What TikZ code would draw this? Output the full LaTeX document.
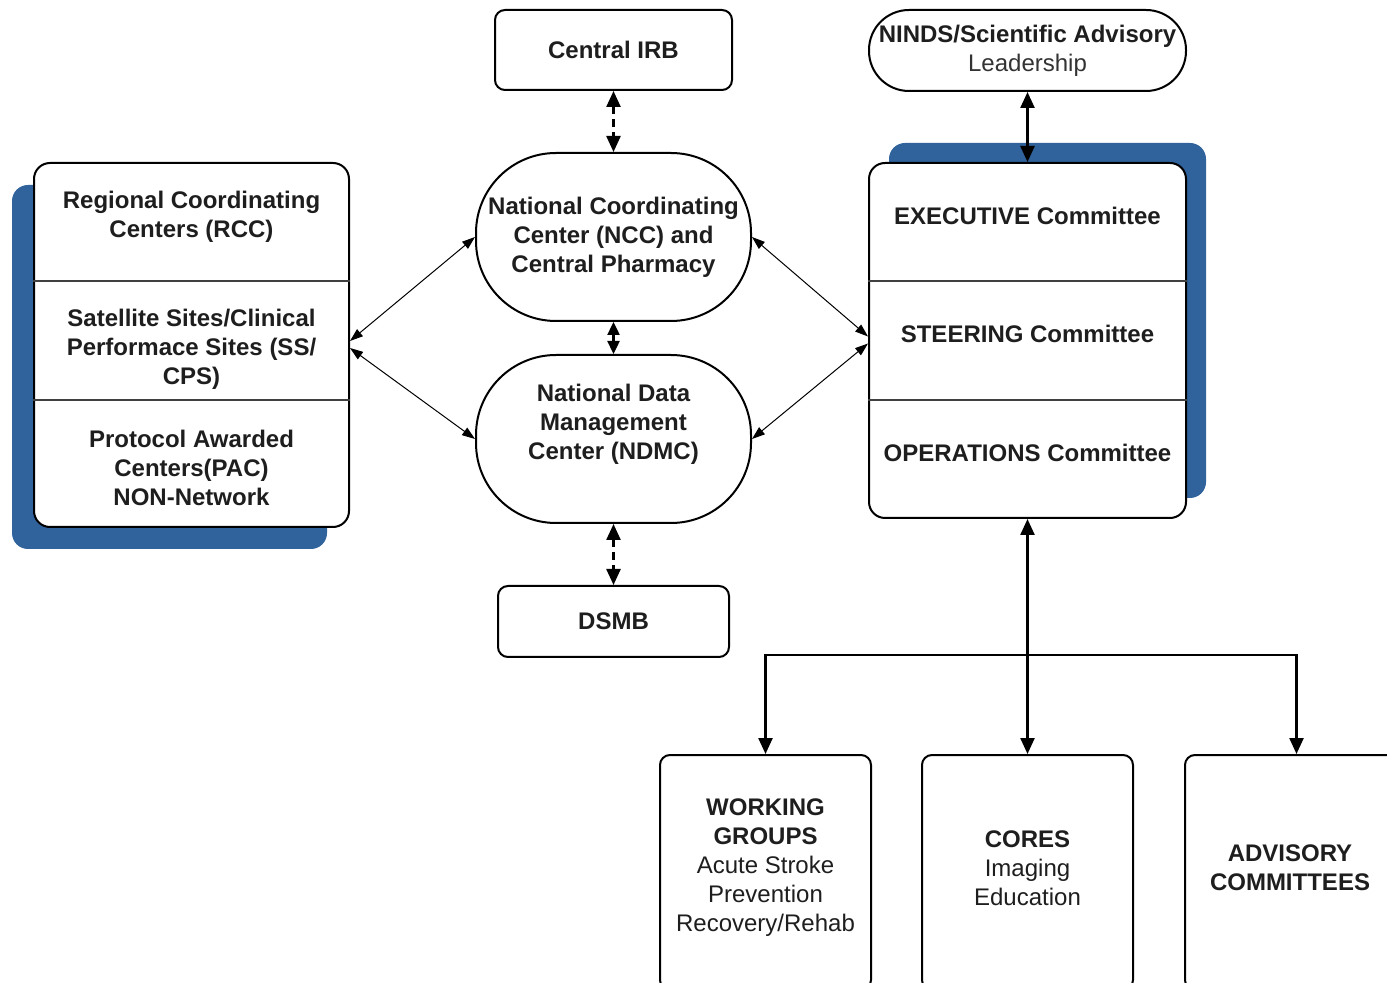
\documentclass[tikz,border=0pt]{standalone}
\usepackage{fontspec}
\setmainfont{Liberation Sans}
\usetikzlibrary{arrows.meta}
\definecolor{shadeblue}{RGB}{48,98,155}
\definecolor{inkgray}{RGB}{30,30,30}
\newcommand{\boxfont}{\fontsize{12}{14.5}\selectfont\bfseries}

\begin{document}
\begin{tikzpicture}[x=0.5pt, y=-0.5pt, >={Triangle[width=7pt,length=8pt]},
    every node/.style={text=inkgray},
    box/.style={draw, line width=1pt, fill=white, rounded corners=5pt, inner sep=0pt},
    pill/.style={draw, line width=1pt, fill=white, inner sep=0pt},
    shade/.style={fill=shadeblue, rounded corners=8pt, inner sep=0pt},
    txt/.style={align=center, font=\boxfont, inner sep=0pt},
    divider/.style={line width=0.8pt, black!75},
    bigarrow/.style={<->, line width=1.2pt},
    dasharrow/.style={<->, line width=1.2pt, dash pattern=on 4pt off 2.5pt},
    thinarrow/.style={<->, line width=0.5pt, >={Triangle[width=4.5pt,length=6.5pt]}},
    downarrow/.style={->, line width=1.2pt}]

    \useasboundingbox (0,0) rectangle (1387,983);
    \clip (0,0) rectangle (1387,983);

    % shadows behind the two stacks
    \node (leftshade) [shade, minimum width=157.5pt, minimum height=182pt] at (169.5,367) {};
    \node (rightshade) [shade, minimum width=158.5pt, minimum height=177.5pt] at (1047.5,320.5) {};

    % left stack
    \node (leftstack) [box, rounded corners=8pt, minimum width=157.5pt, minimum height=182pt] at (191.5,345) {};
    \draw [divider] (leftstack.west |- 0,281) -- (leftstack.east |- 0,281);
    \draw [divider] (leftstack.west |- 0,400) -- (leftstack.east |- 0,400);
    \node (rcc) [txt] at (191.5,217) {Regional Coordinating\\Centers (RCC)};
    \node (sscps) [txt] at (191.5,349) {Satellite Sites/Clinical\\Performace Sites (SS/\\CPS)};
    \node (pac) [txt] at (191.5,468) {Protocol Awarded\\Centers(PAC)\\NON-Network};

    % middle column
    \node (irb) [box, txt, minimum width=118.5pt, minimum height=40pt] at (613.5,50) {Central IRB};
    \node (ncc) [pill, txt, rounded corners=40pt, minimum width=137.5pt, minimum height=84pt] at (613.5,237) {National Coordinating\\Center (NCC) and\\Central Pharmacy};
    \node (ndmc) [pill, rounded corners=40pt, minimum width=137.5pt, minimum height=84pt] at (613.5,439) {};
    \node (ndmctext) [txt] at (613.5,424) {National Data\\Management\\Center (NDMC)};
    \node (dsmb) [box, txt, minimum width=115.5pt, minimum height=35.5pt] at (613.5,621.5) {DSMB};

    % right stack
    \node (ninds) [pill, txt, rounded corners=20pt, minimum width=158.5pt, minimum height=40.5pt] at (1027.5,50.5) {NINDS/Scientific Advisory\\\mdseries\color{black!80}Leadership};
    \node (rightstack) [box, rounded corners=8pt, minimum width=158.5pt, minimum height=177.5pt] at (1027.5,340.5) {};
    \draw [divider] (rightstack.west |- 0,281) -- (rightstack.east |- 0,281);
    \draw [divider] (rightstack.west |- 0,400) -- (rightstack.east |- 0,400);
    \node (executive) [txt] at (1027.5,216) {EXECUTIVE Committee};
    \node (steering) [txt] at (1027.5,334) {STEERING Committee};
    \node (operations) [txt] at (1027.5,453) {OPERATIONS Committee};

    % bottom row
    \node (wg) [box, minimum width=105.5pt, minimum height=117.5pt] at (765.5,872.5) {};
    \node (cores) [box, minimum width=105.5pt, minimum height=117.5pt] at (1027.5,872.5) {};
    \node (advisory) [box, minimum width=111.5pt, minimum height=117.5pt] at (1296.5,872.5) {};
    \node (wgtext) [txt] at (765.5,868) {WORKING\\GROUPS\\\mdseries Acute Stroke\\\mdseries Prevention\\\mdseries Recovery/Rehab};
    \node (corestext) [txt] at (1027.5,868) {CORES\\\mdseries Imaging\\\mdseries Education};
    \node (advisorytext) [txt] at (1290,868) {ADVISORY\\COMMITTEES};

    % connectors
    \draw [dasharrow] (irb) -- (ncc);
    \draw [bigarrow, >={Triangle[width=6pt,length=6.5pt]}] (ncc) -- (ndmc);
    \draw [dasharrow] (ndmc) -- (dsmb);
    \draw [bigarrow] (ninds) -- (rightstack);
    \draw [thinarrow] ([yshift=2pt]leftstack.east) -- (ncc.west);
    \draw [thinarrow] ([yshift=-1.5pt]leftstack.east) -- (ndmc.west);
    \draw [thinarrow] (ncc.east) -- ([yshift=2pt]rightstack.west);
    \draw [thinarrow] (ndmc.east) -- ([yshift=-1.5pt]rightstack.west);
    \draw [bigarrow] (rightstack) -- (cores);
    \coordinate (branch) at (1027.5,655);
    \draw [downarrow] (branch) -| (wg.north);
    \draw [downarrow] (branch) -| (advisory.north);

\end{tikzpicture}
\end{document}
